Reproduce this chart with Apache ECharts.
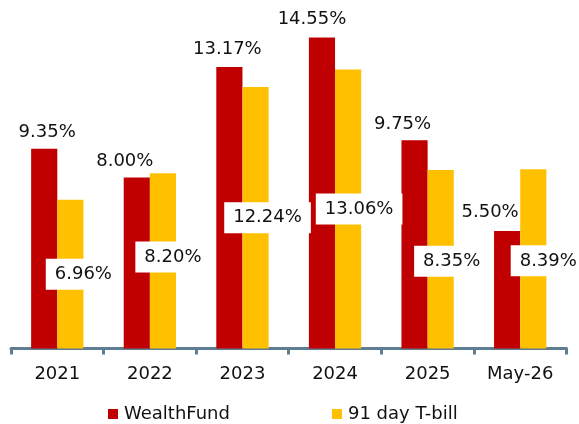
<!DOCTYPE html>
<html>
<head>
<meta charset="utf-8">
<script src="https://cdn.jsdelivr.net/npm/echarts@6/dist/echarts.min.js"></script>
<style>
  html, body { margin: 0; padding: 0; background: #fff; }
  #chart { width: 579px; height: 424px; }
</style>
</head>
<body>
<div id="chart"></div>
<script>
const categories = ['2021', '2022', '2023', '2024', '2025', 'May-26'];
const wealthFund = [9.35, 8.00, 13.17, 14.55, 9.75, 5.50];
const tBill = [6.96, 8.20, 12.24, 13.06, 8.35, 8.39];

// hand placed label nudges, like the original
const fundLabelShift = [[3, 1], [-12, 1], [-2, -1], [-10, -1], [-12, 1], [-17, -2]];
const billLabelShift = [[13, 0], [10, -4], [12, 0], [11, 0], [11, 2], [15, 2]];

const textFont = {
    fontFamily: "'DejaVu Sans', Verdana, sans-serif",
    fontSize: 18,
    color: '#111'
};

document.addEventListener("DOMContentLoaded", () => {
    const chart = echarts.init(document.getElementById('chart'), null, { renderer: 'canvas' });

    chart.setOption({
        animation: false,
        grid: { left: 11, right: 12.5, top: 6.6, bottom: 75.5, containLabel: false },
        legend: {
            left: 108,
            top: 405,
            padding: 0,
            icon: 'rect',
            itemWidth: 10,
            itemHeight: 10,
            itemGap: 102,
            textStyle: Object.assign({}, textFont, { padding: [0, 0, 0, 1] }),
            data: ['WealthFund', '91 day T-bill']
        },
        xAxis: {
            type: 'category',
            data: categories,
            axisLine: { lineStyle: { color: '#5F7D91', width: 3 } },
            axisTick: { show: true, inside: false, length: 6, lineStyle: { color: '#5F7D91', width: 3 } },
            axisLabel: Object.assign({}, textFont, { margin: 17 })
        },
        yAxis: {
            type: 'value',
            min: 0,
            max: 16,
            show: false,
            splitLine: { show: false }
        },
        series: [
            {
                name: 'WealthFund',
                type: 'bar',
                barGap: '0%',
                barCategoryGap: '43.5%',
                itemStyle: { color: '#C00000' },
                data: wealthFund.map((v, i) => ({
                    value: v,
                    label: { offset: fundLabelShift[i] }
                })),
                label: Object.assign({}, textFont, {
                    show: true,
                    position: 'top',
                    distance: 8,
                    formatter: p => p.value.toFixed(2) + '%'
                })
            },
            {
                name: '91 day T-bill',
                type: 'bar',
                itemStyle: { color: '#FFC000' },
                data: tBill.map((v, i) => ({
                    value: v,
                    label: { offset: billLabelShift[i] }
                })),
                label: Object.assign({}, textFont, {
                    show: true,
                    position: 'inside',
                    backgroundColor: '#fff',
                    padding: [7, 9, 6, 9],
                    formatter: p => p.value.toFixed(2) + '%'
                })
            }
        ]
    });
});
</script>
</body>
</html>
